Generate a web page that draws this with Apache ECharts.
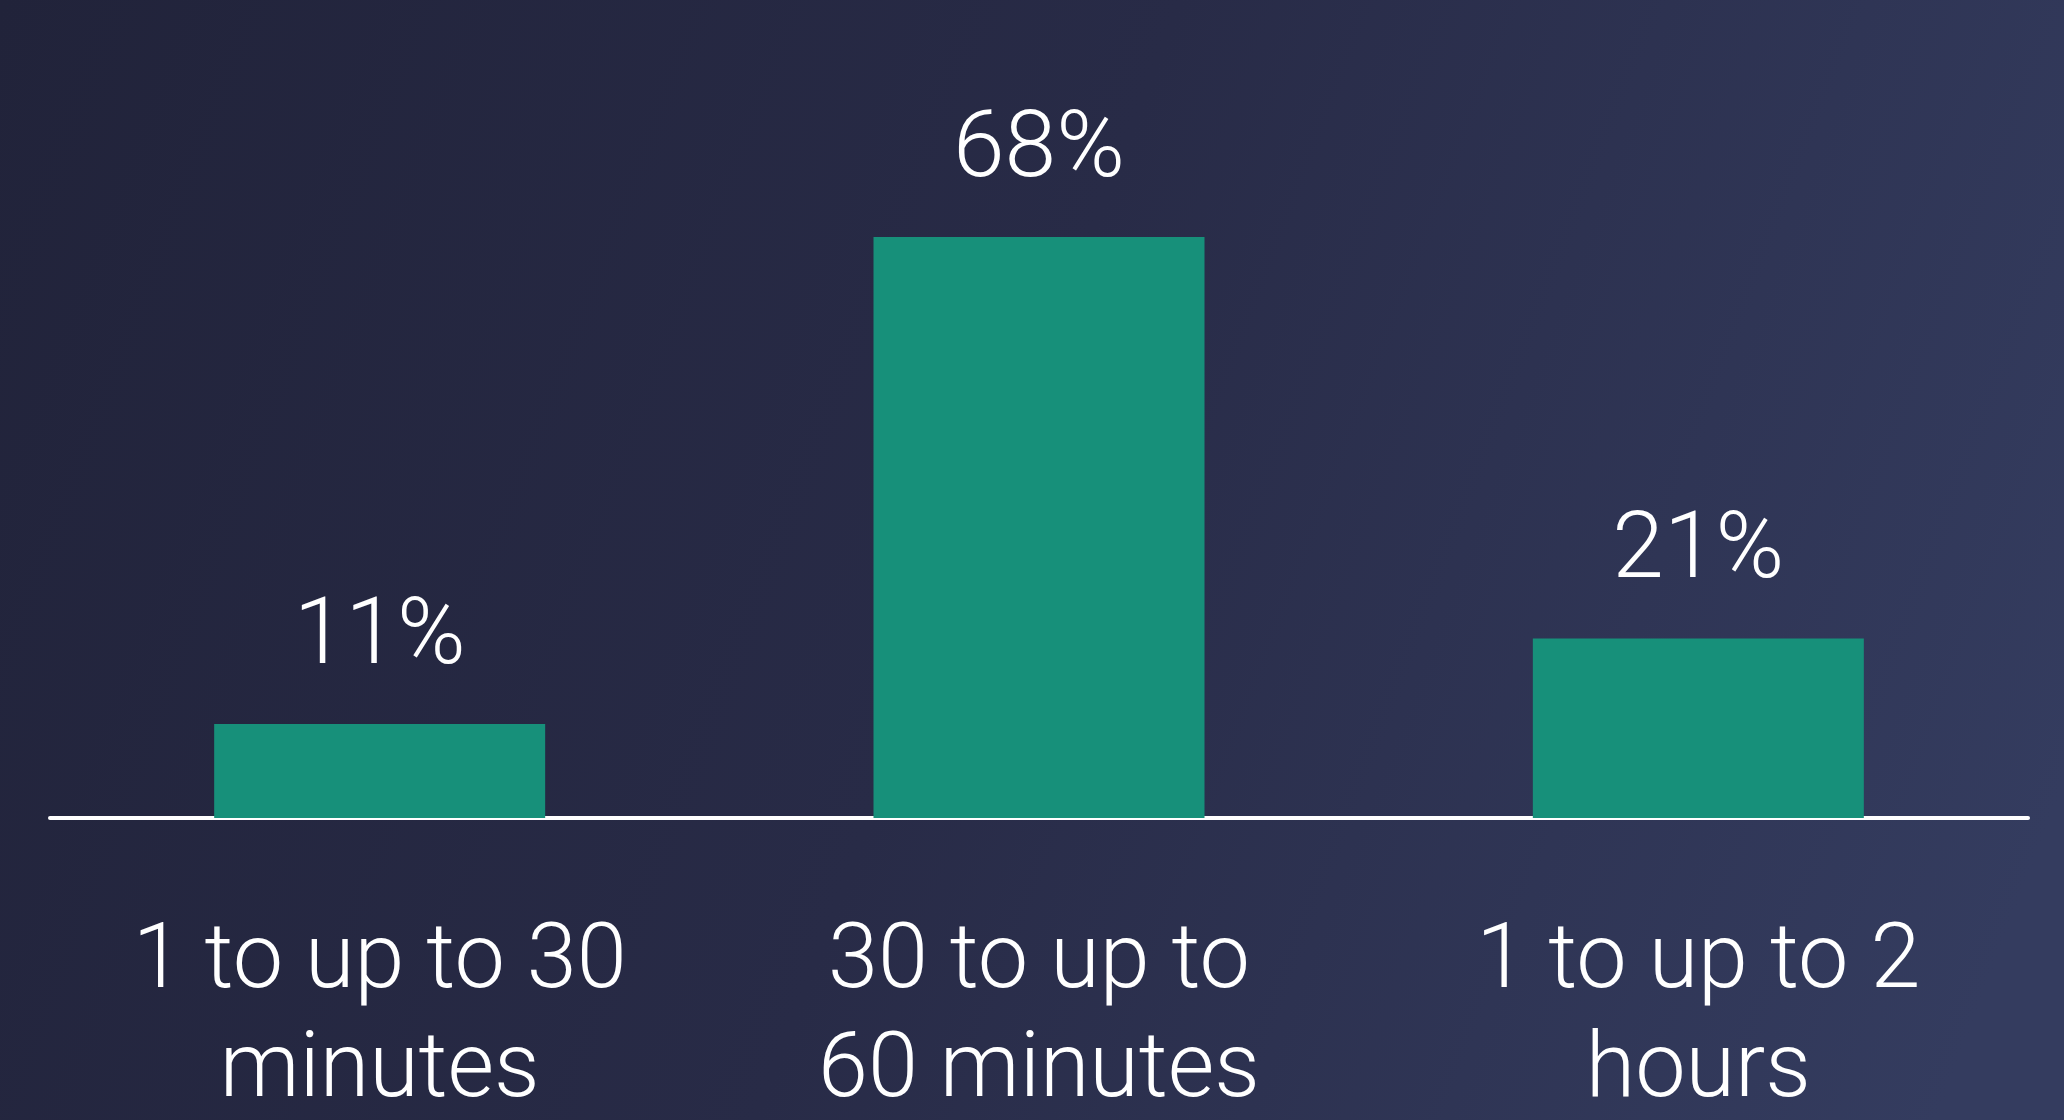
<!DOCTYPE html>
<html>
<head>
<meta charset="utf-8">
<style>
html,body{margin:0;padding:0;width:2064px;height:1120px;overflow:hidden;}
#chart{width:2064px;height:1120px;}
</style>
<script src="https://cdn.jsdelivr.net/npm/echarts@6/dist/echarts.min.js"></script>
</head>
<body>
<div id="chart"></div>
<script>
const categories = ['1 to up to 30\nminutes', '30 to up to\n60 minutes', '1 to up to 2\nhours'];
const values = [11, 68, 21];

const chart = echarts.init(document.getElementById('chart'), null, {renderer: 'canvas'});
chart.setOption({
  backgroundColor: {
    type: 'linear', x: 0, y: 0, x2: 1, y2: 0.7,
    colorStops: [
      {offset: 0, color: '#21233a'},
      {offset: 0.5, color: '#282b47'},
      {offset: 1, color: '#343c5f'}
    ]
  },
  animation: false,
  grid: {left: 50, right: 36, top: 49, bottom: 302, containLabel: false, outerBoundsMode: 'none'},
  xAxis: {
    type: 'category',
    data: categories,
    axisTick: {show: false},
    axisLine: {show: true, lineStyle: {color: '#ffffff', width: 4}},
    axisLabel: {
      color: '#ffffff',
      fontFamily: 'Roboto',
      fontWeight: 300,
      fontSize: 90,
      lineHeight: 109,
      margin: 92,
      interval: 0
    }
  },
  yAxis: {
    type: 'value',
    min: 0,
    max: 90,
    show: false,
    splitLine: {show: false}
  },
  series: [{
    type: 'bar',
    data: values,
    barWidth: 331,
    itemStyle: {color: '#17907a'},
    label: {
      show: true,
      position: 'top',
      distance: 38,
      formatter: '{c}%',
      color: '#ffffff',
      fontFamily: 'Roboto',
      fontWeight: 300,
      fontSize: 93,
      lineHeight: 93
    }
  }]
});
</script>
</body>
</html>
